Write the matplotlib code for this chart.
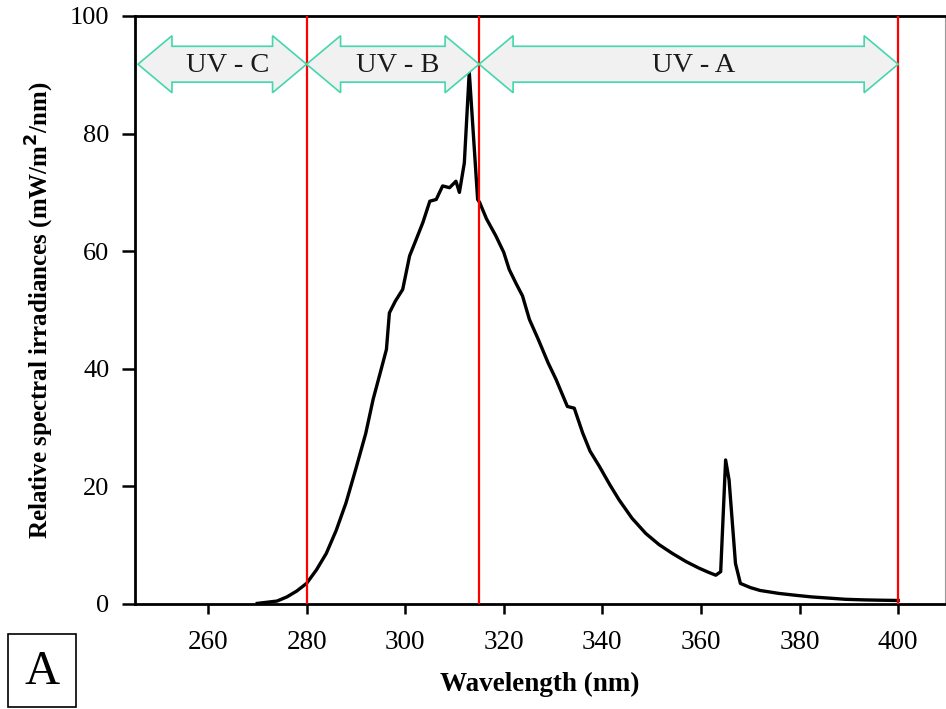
import matplotlib
matplotlib.use("Agg")
import matplotlib.pyplot as plt
from matplotlib.patches import Polygon, Rectangle

plt.rcParams['font.family'] = ['Liberation Serif', 'DejaVu Serif']

wavelength = [270, 272, 274, 276, 278, 280, 282, 284, 286, 288, 290, 292, 293.5, 295,
              296.2, 296.8, 298, 299.5, 300.9, 302, 303.6, 305, 306.3, 307.6, 309, 310.3,
              311, 312, 313, 314.7, 315.1, 316.5, 318.4, 320, 321.1, 322.5, 323.8, 325.2,
              327, 329, 330.6, 332.9, 334.3, 336, 337.5, 339.4, 341.5, 343.4, 346, 348.8,
              351.5, 354.2, 357, 359.6, 361.5, 363, 364, 365, 365.7, 367, 368, 370, 372,
              375.8, 379, 382.5, 386, 389.3, 393, 396, 400]
irradiance = [0.1, 0.3, 0.5, 1.2, 2.2, 3.5, 5.8, 8.6, 12.5, 17.2, 23, 29, 34.8, 39.5,
              43.3, 49.5, 51.5, 53.5, 59.2, 61.5, 64.9, 68.5, 68.8, 71.1, 70.8, 71.9,
              70, 75, 90.5, 68.8, 68.3, 65.5, 62.6, 59.8, 56.9, 54.5, 52.4, 48.4,
              45, 41, 38.2, 33.6, 33.3, 29.1, 26, 23.4, 20.3, 17.7, 14.6, 12,
              10.1, 8.6, 7.2, 6.1, 5.4, 4.9, 5.5, 24.5, 21.1, 6.9, 3.5, 2.8, 2.3,
              1.8, 1.5, 1.2, 1.0, 0.8, 0.7, 0.65, 0.6]

band_edges = [245.8, 280, 315, 400]
band_labels = ["UV - C", "UV - B", "UV - A"]
boundary_lines = [280, 315, 400]
x_ticks = [260, 280, 300, 320, 340, 360, 380, 400]
y_ticks = [0, 20, 40, 60, 80, 100]

fig = plt.figure(figsize=(9.46, 7.09), dpi=100)
ax = fig.add_axes([135/946, 1-604/709, (945-135)/946, (604-16)/709])

ax.plot(wavelength, irradiance, color='black', lw=2.4, solid_joinstyle='round', zorder=3)
for b in boundary_lines:
    ax.axvline(b, color='#ff0000', lw=1.6, zorder=4)

# double-headed block arrows
yc, hs, hh, L = 91.8, 3.05, 4.85, 6.9
for x0, x1, lab in zip(band_edges[:-1], band_edges[1:], band_labels):
    pts = [(x0, yc), (x0+L, yc+hh), (x0+L, yc+hs), (x1-L, yc+hs), (x1-L, yc+hh),
           (x1, yc), (x1-L, yc-hh), (x1-L, yc-hs), (x0+L, yc-hs), (x0+L, yc-hh)]
    ax.add_patch(Polygon(pts, closed=True, facecolor='#f1f1f1', edgecolor='#45d6ae',
                         lw=1.2, zorder=5))
    ax.text((x0+x1)/2 + 1, yc - 0.2, lab, ha='center', va='center', fontsize=20.5,
            color='#1a1a1a', zorder=6)

ax.set_xlim(245.2, 409.5)
ax.set_ylim(0, 100)
ax.set_xticks(x_ticks)
ax.set_yticks(y_ticks)
ax.tick_params(axis='x', length=7, width=1.8, pad=12, labelsize=19.5, direction='out')
ax.tick_params(axis='y', length=9.5, width=1.8, pad=9, labelsize=19, direction='out')
for s in ['top', 'bottom', 'left']:
    ax.spines[s].set_linewidth(2.0)
    ax.spines[s].set_color('black')
ax.spines['right'].set_linewidth(0.8)
ax.spines['right'].set_color('#999999')

ax.set_xlabel('Wavelength (nm)', fontsize=19.5, fontweight='bold', labelpad=12)
ax.set_ylabel('Relative spectral irradiances (mW/m$^{\\mathbf{2}}$/nm)', fontsize=18,
              fontweight='bold', labelpad=10)

# panel letter
fig.patches.append(Rectangle((8/946, 1-707/709), 68/946, 73/709, transform=fig.transFigure,
                             facecolor='white', edgecolor='black', lw=1.2))
fig.text(42/946, 1-672/709, 'A', ha='center', va='center', fontsize=35)

fig.savefig('out.png', dpi=100)
